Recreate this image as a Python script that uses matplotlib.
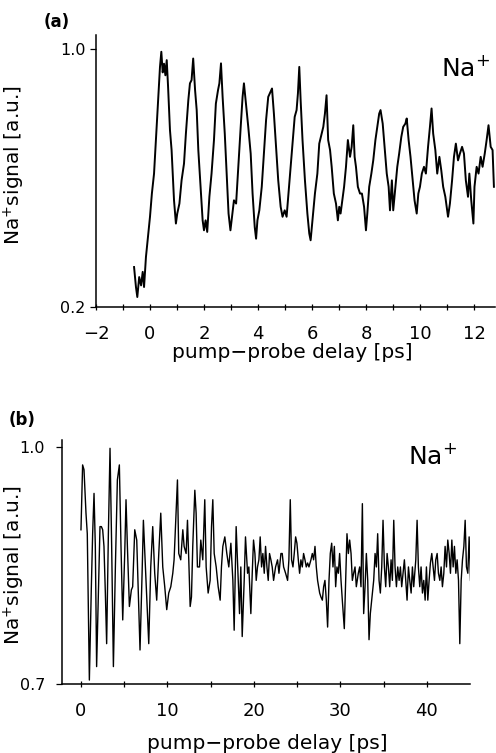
import numpy as np
import matplotlib
matplotlib.use("Agg")
import matplotlib.pyplot as plt

# ---------------- data: panel (a) ----------------
delay_a = [-0.59,-0.52,-0.47,-0.40,-0.33,-0.27,-0.22,-0.15,-0.06,0.00,
           0.07,0.15,0.22,0.31,0.37,0.42,0.47,0.52,0.57,0.62,
           0.67,0.74,0.80,0.89,0.96,1.01,1.09,1.17,1.26,1.33,
           1.42,1.48,1.54,1.60,1.67,1.73,1.79,1.88,1.95,2.00,
           2.06,2.12,2.20,2.28,2.37,2.44,2.52,2.57,2.63,2.69,
           2.77,2.84,2.91,2.98,3.04,3.11,3.19,3.27,3.36,3.43,
           3.48,3.53,3.58,3.64,3.73,3.80,3.88,3.93,3.98,4.05,
           4.14,4.22,4.30,4.38,4.44,4.52,4.59,4.67,4.75,4.84,
           4.91,4.99,5.06,5.14,5.21,5.28,5.36,5.43,5.48,5.53,
           5.58,5.65,5.74,5.83,5.90,5.95,6.02,6.11,6.20,6.27,
           6.36,6.42,6.48,6.54,6.60,6.67,6.73,6.81,6.89,6.96,
           7.01,7.06,7.11,7.19,7.26,7.33,7.41,7.47,7.53,7.58,
           7.63,7.70,7.78,7.85,7.93,8.00,8.05,8.12,8.20,8.27,
           8.35,8.42,8.49,8.54,8.62,8.69,8.77,8.84,8.89,8.96,
           9.01,9.09,9.16,9.23,9.31,9.38,9.46,9.51,9.58,9.65,
           9.73,9.80,9.88,9.94,10.00,10.07,10.15,10.22,10.30,10.37,
           10.43,10.49,10.57,10.64,10.72,10.79,10.86,10.94,10.99,11.04,
           11.11,11.19,11.26,11.33,11.41,11.48,11.56,11.63,11.70,11.78,
           11.83,11.90,11.98,12.02,12.10,12.17,12.25,12.32,12.40,12.47,
           12.54,12.62,12.69,12.74]
signal_a = [0.324,0.262,0.231,0.293,0.267,0.309,0.262,0.355,0.428,0.480,
            0.552,0.614,0.718,0.852,0.945,0.992,0.928,0.955,0.919,0.966,
            0.883,0.749,0.687,0.531,0.459,0.490,0.521,0.593,0.645,0.738,
            0.842,0.894,0.904,0.971,0.873,0.811,0.687,0.562,0.469,0.438,
            0.469,0.433,0.542,0.614,0.718,0.831,0.873,0.894,0.956,0.852,
            0.738,0.614,0.490,0.438,0.480,0.531,0.521,0.635,0.759,0.852,
            0.894,0.852,0.811,0.759,0.676,0.552,0.448,0.412,0.469,0.500,
            0.573,0.676,0.780,0.852,0.863,0.878,0.800,0.697,0.593,0.511,
            0.480,0.500,0.480,0.562,0.635,0.707,0.790,0.811,0.863,0.945,
            0.842,0.718,0.593,0.490,0.428,0.407,0.469,0.552,0.614,0.707,
            0.738,0.759,0.800,0.857,0.718,0.687,0.635,0.552,0.521,0.469,
            0.511,0.490,0.521,0.573,0.635,0.718,0.666,0.697,0.764,0.666,
            0.635,0.573,0.552,0.552,0.511,0.438,0.490,0.573,0.614,0.655,
            0.718,0.759,0.800,0.811,0.769,0.697,0.614,0.573,0.500,0.593,
            0.500,0.573,0.635,0.676,0.728,0.759,0.769,0.785,0.718,0.666,
            0.593,0.531,0.490,0.552,0.573,0.614,0.635,0.614,0.697,0.759,
            0.816,0.738,0.687,0.614,0.666,0.624,0.573,0.542,0.511,0.480,
            0.521,0.593,0.666,0.707,0.655,0.676,0.697,0.676,0.593,0.542,
            0.614,0.531,0.459,0.573,0.635,0.614,0.666,0.635,0.676,0.718,
            0.764,0.697,0.687,0.573]

# ---------------- data: panel (b) ----------------
delay_b = [0.00,0.19,0.35,0.58,0.73,0.97,1.20,1.35,1.51,1.66,
           1.81,2.05,2.20,2.36,2.51,2.66,2.82,2.97,3.17,3.36,
           3.55,3.75,3.98,4.21,4.44,4.63,4.83,5.06,5.21,5.37,
           5.60,5.83,5.98,6.22,6.45,6.68,6.83,7.07,7.22,7.45,
           7.68,7.84,8.07,8.30,8.53,8.76,9.00,9.23,9.46,9.69,
           9.92,10.15,10.39,10.62,10.77,11.00,11.16,11.31,11.54,11.78,
           11.93,12.16,12.32,12.47,12.63,12.78,12.93,13.17,13.32,13.47,
           13.71,13.86,14.09,14.32,14.48,14.71,14.94,15.10,15.25,15.41,
           15.64,15.87,16.10,16.25,16.41,16.64,16.87,17.10,17.34,17.57,
           17.72,17.95,18.19,18.34,18.49,18.65,18.88,19.03,19.27,19.42,
           19.65,19.81,19.96,20.12,20.27,20.42,20.58,20.73,20.89,21.04,
           21.20,21.35,21.51,21.66,21.81,21.97,22.12,22.28,22.51,22.74,
           22.90,23.13,23.28,23.44,23.67,23.90,24.05,24.21,24.36,24.52,
           24.67,24.83,24.98,25.14,25.29,25.44,25.60,25.75,25.91,26.06,
           26.22,26.37,26.60,26.76,26.91,27.07,27.22,27.37,27.61,27.76,
           27.92,28.07,28.22,28.38,28.53,28.69,28.84,29.00,29.15,29.31,
           29.46,29.61,29.77,29.92,30.08,30.23,30.46,30.62,30.77,30.93,
           31.08,31.24,31.39,31.54,31.70,31.85,32.08,32.24,32.39,32.55,
           32.70,32.86,33.01,33.17,33.32,33.47,33.63,33.86,34.02,34.17,
           34.32,34.48,34.63,34.79,34.94,35.10,35.25,35.41,35.56,35.71,
           35.87,36.02,36.18,36.33,36.49,36.64,36.80,36.95,37.10,37.26,
           37.41,37.57,37.72,37.88,38.03,38.19,38.34,38.49,38.73,38.88,
           39.03,39.19,39.34,39.50,39.65,39.81,39.96,40.12,40.27,40.42,
           40.58,40.73,40.89,41.04,41.20,41.35,41.51,41.66,41.81,41.97,
           42.12,42.28,42.43,42.59,42.74,42.90,43.05,43.20,43.36,43.51,
           43.67,43.82,43.98,44.13,44.29,44.44,44.59,44.75,44.90,45.06]
signal_b = [0.895,0.977,0.971,0.916,0.890,0.705,0.823,0.890,0.941,0.874,
            0.722,0.831,0.899,0.899,0.895,0.874,0.815,0.751,0.890,0.998,
            0.874,0.722,0.848,0.958,0.977,0.874,0.781,0.865,0.933,0.874,
            0.798,0.819,0.823,0.895,0.882,0.798,0.743,0.840,0.907,0.848,
            0.789,0.751,0.848,0.899,0.840,0.806,0.865,0.916,0.848,0.823,
            0.794,0.815,0.823,0.840,0.857,0.916,0.958,0.865,0.857,0.895,
            0.874,0.865,0.907,0.857,0.798,0.810,0.874,0.945,0.916,0.848,
            0.848,0.882,0.857,0.933,0.848,0.815,0.831,0.899,0.933,0.865,
            0.848,0.823,0.806,0.848,0.874,0.886,0.865,0.848,0.878,0.831,
            0.768,0.899,0.831,0.789,0.848,0.760,0.831,0.886,0.840,0.848,
            0.789,0.840,0.882,0.865,0.831,0.848,0.857,0.886,0.848,0.865,
            0.840,0.874,0.848,0.831,0.865,0.857,0.848,0.831,0.848,0.857,
            0.840,0.865,0.865,0.848,0.840,0.831,0.857,0.933,0.857,0.848,
            0.865,0.886,0.878,0.857,0.840,0.857,0.848,0.865,0.857,0.848,
            0.853,0.848,0.857,0.865,0.857,0.874,0.848,0.831,0.815,0.810,
            0.806,0.823,0.831,0.806,0.772,0.831,0.865,0.878,0.848,0.874,
            0.823,0.848,0.840,0.865,0.831,0.806,0.770,0.831,0.890,0.865,
            0.882,0.865,0.831,0.840,0.848,0.823,0.840,0.848,0.823,0.928,
            0.789,0.823,0.865,0.831,0.756,0.789,0.806,0.831,0.865,0.848,
            0.890,0.831,0.815,0.848,0.907,0.848,0.823,0.865,0.848,0.823,
            0.857,0.831,0.907,0.848,0.823,0.848,0.831,0.848,0.823,0.840,
            0.857,0.831,0.806,0.848,0.831,0.815,0.848,0.823,0.857,0.907,
            0.848,0.823,0.848,0.815,0.831,0.806,0.848,0.806,0.831,0.853,
            0.865,0.848,0.831,0.857,0.865,0.840,0.831,0.848,0.823,0.840,
            0.874,0.848,0.882,0.865,0.840,0.882,0.848,0.874,0.840,0.857,
            0.831,0.751,0.831,0.857,0.874,0.907,0.848,0.840,0.886,0.831]

yticks_a = [0.2, 1.0]
yticks_b = [0.7, 1.0]
xticklabels_a = [-2, 0, 2, 4, 6, 8, 10, 12]
xticklabels_b = [0, 10, 20, 30, 40]

xlabel_text = "pump\u2212probe delay [ps]"
ylabel_text = "Na$^{+}$signal [a.u.]"
ion_text = "Na$^{+}$"

plt.rcParams['font.family'] = ['DejaVu Sans']
plt.rcParams['mathtext.default'] = 'regular'

W, H = 496, 753
fig = plt.figure(figsize=(W / 100, H / 100), dpi=100)

def frac(l, t, r, b):
    return [l / W, 1 - b / H, (r - l) / W, (b - t) / H]

ax_a = fig.add_axes(frac(96, 35, 495, 307))
ax_b = fig.add_axes(frac(62.3, 440, 470, 684))

def style(ax, ypad):
    for s in ['top', 'right']:
        ax.spines[s].set_visible(False)
    for s in ['left', 'bottom']:
        ax.spines[s].set_linewidth(1.1)
    ax.tick_params(axis='x', which='both', direction='inout', length=4.5, width=0.9,
                   pad=11, labelsize=13)
    ax.tick_params(axis='y', which='both', direction='out', length=4.5, width=0.9,
                   pad=ypad, labelsize=11.5)

# panel (a)
ax_a.plot(delay_a, signal_a, color='black', lw=1.4)
ax_a.set_xlim(-2, 12.78)
ax_a.set_ylim(0.2, 1.044)
ax_a.set_xticks(xticklabels_a)
ax_a.set_xticks(np.arange(-2, 13, 1), minor=True)
ax_a.set_yticks(yticks_a)
ax_a.set_yticklabels([f"{v:.1f}" for v in yticks_a])
ax_a.set_xticklabels([str(v).replace('-', '\u2212') for v in xticklabels_a])
style(ax_a, 3)
ax_a.set_xlabel(xlabel_text, fontsize=14.5)
ax_a.xaxis.set_label_coords(0.491, -0.169, transform=ax_a.transAxes)
ax_a.xaxis.label.set_va('center')
ax_a.set_ylabel(ylabel_text, fontsize=14.5)
ax_a.yaxis.set_label_coords(-0.205, 0.522, transform=ax_a.transAxes)
ax_a.yaxis.label.set_va('center')

# panel (b)
ax_b.plot(delay_b, signal_b, color='black', lw=1.0)
ax_b.set_xlim(-2.16, 45.0)
ax_b.set_ylim(0.7, 1.0085)
ax_b.set_xticks(xticklabels_b)
ax_b.set_xticks(np.arange(0, 45, 5), minor=True)
ax_b.set_yticks(yticks_b)
ax_b.set_yticklabels([f"{v:.1f}" for v in yticks_b])
style(ax_b, 8)
ax_b.set_xlabel(xlabel_text, fontsize=14.5)
ax_b.xaxis.set_label_coords(0.502, -0.242, transform=ax_b.transAxes)
ax_b.xaxis.label.set_va('center')
ax_b.set_ylabel(ylabel_text, fontsize=14.5)
ax_b.yaxis.set_label_coords(-0.118, 0.488, transform=ax_b.transAxes)
ax_b.yaxis.label.set_va('center')

# Na+ annotations and panel labels (figure-pixel positions)
fig.text(466 / W, 1 - 69 / H, ion_text, fontsize=18, ha='center', va='center')
fig.text(433 / W, 1 - 457 / H, ion_text, fontsize=18, ha='center', va='center')
fig.text(57 / W, 1 - 22 / H, "(a)", fontsize=12, fontweight='bold', ha='center', va='center')
fig.text(22 / W, 1 - 420 / H, "(b)", fontsize=12, fontweight='bold', ha='center', va='center')

fig.savefig("out.png", dpi=100)
